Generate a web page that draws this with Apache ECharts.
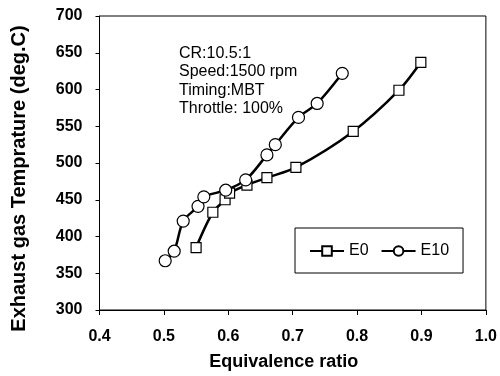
<!DOCTYPE html>
<html>
<head>
<meta charset="utf-8">
<script src="https://cdn.jsdelivr.net/npm/echarts@6/dist/echarts.min.js"></script>
<style>html,body{margin:0;padding:0;background:#fff}#c{width:500px;height:376px}</style>
</head>
<body>
<div id="c"></div>
<script>
var e0Phi  = [0.550, 0.576, 0.595, 0.602, 0.629, 0.660, 0.705, 0.794, 0.865, 0.899];
var e0Temp = [385, 433, 450, 459, 470, 480, 494, 543, 599, 637];
var e10Phi  = [0.502, 0.516, 0.530, 0.553, 0.562, 0.596, 0.627, 0.660, 0.673, 0.709, 0.738, 0.777];
var e10Temp = [367, 380, 421, 441, 454, 463, 477, 511, 525, 562, 581, 622];
var xTicks = [0.4, 0.5, 0.6, 0.7, 0.8, 0.9, 1.0];
var yTicks = [300, 350, 400, 450, 500, 550, 600, 650, 700];
var notes = ['CR:10.5:1', 'Speed:1500 rpm', 'Timing:MBT', 'Throttle: 100%'];

function pairs(xs, ys) { return xs.map(function (x, i) { return [x, ys[i]]; }); }

var font = 'Liberation Sans, Arial, sans-serif';
var chart = echarts.init(document.getElementById('c'), null, {renderer: 'canvas'});
chart.setOption({
  animation: false,
  backgroundColor: '#fff',
  grid: {left: 99.5, right: 13.5, top: 16, bottom: 62, show: true, borderColor: '#000', borderWidth: 1},
  xAxis: {
    type: 'value', min: xTicks[0], max: xTicks[xTicks.length - 1], interval: 0.1,
    name: 'Equivalence ratio', nameLocation: 'middle', nameGap: 43,
    nameTextStyle: {fontFamily: font, fontSize: 18, fontWeight: 'bold', color: '#000', padding: [0, 18, 0, 0]},
    axisLine: {lineStyle: {color: '#000', width: 1}},
    axisTick: {inside: false, length: 5, lineStyle: {color: '#000'}},
    axisLabel: {margin: 19, fontFamily: font, fontSize: 16, fontWeight: 'bold', color: '#000',
      formatter: function (v) { return v.toFixed(1); }},
    splitLine: {show: false}
  },
  yAxis: {
    type: 'value', min: yTicks[0], max: yTicks[yTicks.length - 1], interval: 50,
    name: 'Exhaust gas Temprature (deg.C)', nameLocation: 'middle', nameGap: 70,
    nameTextStyle: {fontFamily: font, fontSize: 20, fontWeight: 'bold', color: '#000', padding: [0, 31, 0, 0]},
    axisLine: {show: true, lineStyle: {color: '#000', width: 1}},
    axisTick: {show: true, inside: false, length: 4, lineStyle: {color: '#000'}},
    axisLabel: {margin: 17, fontFamily: font, fontSize: 16, fontWeight: 'bold', color: '#000'},
    splitLine: {show: false}
  },
  legend: {
    left: 295, top: 228, orient: 'horizontal',
    padding: [15, 14, 14, 14], itemGap: 12, itemWidth: 34, itemHeight: 12,
    borderColor: '#000', borderWidth: 1, backgroundColor: '#fff',
    textStyle: {fontFamily: font, fontSize: 16, color: '#000'},
    data: ['E0', 'E10']
  },
  graphic: [{
    type: 'text', left: 179, top: 44,
    style: {text: notes.join('\n'), font: '16px ' + font, lineHeight: 18.5, fill: '#000'}
  }],
  series: [{
    name: 'E0', type: 'line', data: pairs(e0Phi, e0Temp), smooth: 0.3,
    symbol: 'rect', symbolSize: 10,
    lineStyle: {color: '#000', width: 2.5},
    itemStyle: {color: '#fff', borderColor: '#000', borderWidth: 1.2}
  }, {
    name: 'E10', type: 'line', data: pairs(e10Phi, e10Temp), smooth: 0.3,
    symbol: 'circle', symbolSize: 12,
    lineStyle: {color: '#000', width: 2.5},
    itemStyle: {color: '#fff', borderColor: '#000', borderWidth: 1.2}
  }]
});
</script>
</body>
</html>
